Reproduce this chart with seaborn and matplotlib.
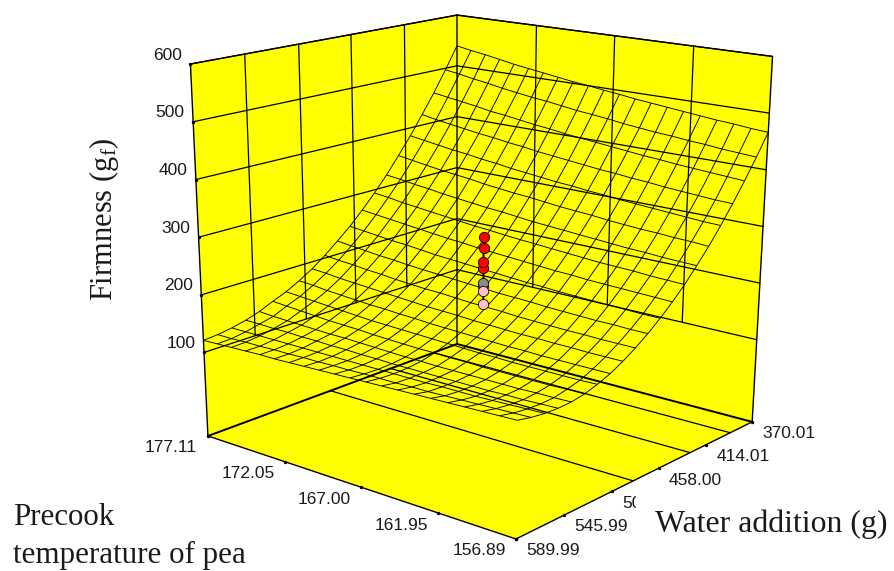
import numpy as np
import matplotlib
matplotlib.use("Agg")
import matplotlib.pyplot as plt
import seaborn as sns
from mpl_toolkits.mplot3d import proj3d
from mpl_toolkits.mplot3d.art3d import Poly3DCollection

# ---------- data ----------
temp_ticks = [177.11, 171.55, 166.40, 161.50, 156.89]
water_ticks = [370.01, 418.50, 465.00, 508.00, 550.00, 589.99]
firm_ticks = [100, 204, 306, 406, 504, 600]
temp_labels = ["177.11", "172.05", "167.00", "161.95", "156.89"]
water_labels = ["370.01", "414.01", "458.00", "502.00", "545.99", "589.99"]
firm_labels = ["100", "200", "300", "400", "500", "600"]
floor_level = -55
floor_water_lines = [393.4, 434.4, 489.0]

temp_grid = [156.89, 157.90, 158.91, 159.92, 160.93, 161.95, 162.96, 163.97, 164.98, 165.99, 167.00,
             168.01, 169.02, 170.03, 171.04, 172.05, 173.06, 174.07, 175.08, 176.10, 177.11]
water_grid = [370.01, 381.01, 392.01, 403.01, 414.01, 425.00, 436.00, 447.00, 458.00, 469.00, 480.00,
              491.00, 502.00, 513.00, 524.00, 535.00, 545.99, 556.99, 567.99, 578.99, 589.99]

firmness = [
    [471, 473, 476, 478, 481, 484, 487, 490, 493, 497, 500, 504, 507, 511, 515, 519, 523, 528, 533, 537, 542],
    [434, 436, 438, 441, 443, 446, 448, 451, 454, 458, 461, 464, 468, 472, 475, 479, 483, 488, 492, 497, 501],
    [399, 401, 403, 405, 407, 410, 412, 415, 418, 421, 424, 427, 431, 434, 438, 442, 445, 450, 454, 458, 462],
    [366, 367, 369, 371, 373, 376, 378, 381, 383, 386, 389, 392, 395, 399, 402, 406, 409, 413, 417, 421, 426],
    [335, 336, 338, 340, 342, 344, 346, 349, 351, 354, 356, 359, 362, 365, 369, 372, 376, 379, 383, 387, 391],
    [306, 308, 309, 311, 312, 314, 316, 319, 321, 323, 326, 329, 331, 334, 337, 341, 344, 347, 351, 355, 359],
    [280, 281, 282, 284, 285, 287, 289, 291, 293, 295, 297, 300, 303, 305, 308, 311, 314, 318, 321, 325, 328],
    [255, 256, 257, 259, 260, 261, 263, 265, 267, 269, 271, 273, 276, 278, 281, 284, 287, 290, 293, 297, 300],
    [233, 234, 235, 236, 237, 238, 240, 241, 243, 245, 247, 249, 251, 254, 256, 259, 262, 265, 268, 271, 274],
    [213, 213, 214, 215, 216, 217, 218, 220, 221, 223, 225, 227, 229, 231, 233, 236, 239, 241, 244, 247, 250],
    [195, 195, 196, 196, 197, 198, 199, 201, 202, 203, 205, 207, 209, 211, 213, 215, 218, 220, 223, 226, 229],
    [179, 179, 179, 180, 180, 181, 182, 183, 185, 186, 187, 189, 191, 192, 194, 196, 199, 201, 204, 206, 209],
    [165, 165, 165, 166, 166, 167, 167, 168, 169, 170, 172, 173, 174, 176, 178, 180, 182, 184, 186, 189, 191],
    [153, 153, 153, 153, 153, 154, 154, 155, 156, 157, 158, 159, 161, 162, 164, 165, 167, 169, 171, 174, 176],
    [144, 143, 143, 143, 143, 143, 144, 144, 145, 146, 147, 148, 149, 150, 151, 153, 155, 157, 159, 161, 163],
    [137, 137, 136, 136, 136, 136, 136, 137, 137, 138, 138, 139, 140, 141, 143, 144, 145, 147, 149, 151, 153],
    [133, 132, 132, 131, 131, 131, 131, 131, 131, 132, 132, 133, 134, 135, 136, 136, 137, 138, 139, 140, 142],
    [132, 131, 130, 130, 129, 129, 129, 129, 129, 129, 129, 130, 130, 131, 131, 132, 132, 133, 133, 134, 134],
    [133, 132, 131, 130, 129, 129, 129, 128, 128, 128, 128, 128, 128, 128, 128, 128, 128, 128, 128, 128, 128],
    [136, 135, 134, 133, 132, 131, 130, 130, 129, 129, 129, 128, 128, 127, 127, 126, 126, 125, 125, 124, 124],
    [141, 140, 139, 138, 137, 136, 135, 134, 133, 132, 131, 130, 129, 128, 127, 126, 126, 125, 124, 123, 122],
]

design_temp = 167.00
design_water = 480.00
points_above = [297, 277, 252, 241]
points_hidden = [214, 209]
points_below = [200, 176]

# ---------- camera of the reference ----------
ELEV, AZIM = 20.3, 130.2
FOCAL_PX = 1965
CENTER_PX = (457, 417)
XLIM3D = (169.83, 182.49)
YLIM3D = (312.2, 452.8)
ZLIM3D = (-409.9, 24.5)

W, H = 894, 571
sns.set_theme(style="white")
plt.rcParams["font.family"] = ["Liberation Sans", "DejaVu Sans"]
plt.rcParams["mathtext.fontset"] = "custom"
plt.rcParams["mathtext.rm"] = "Liberation Serif"
plt.rcParams["mathtext.it"] = "Liberation Serif"

fig = plt.figure(figsize=(W / 100, H / 100), dpi=100, facecolor="white")
ax = fig.add_axes([100 / W, 100 / H, 400 / W, 400 / H], projection="3d", computed_zorder=False)
ax.set_box_aspect((1, 1, 1), zoom=1)
ax.view_init(elev=ELEV, azim=AZIM)
ax.set_proj_type("persp", focal_length=1)
ax.set_axis_off()
ax.patch.set_visible(False)

p0 = ax.transData.transform((0, 0))
p1 = ax.transData.transform((0.1, 0.1))
per_unit = (p1[0] - p0[0]) / 0.1
fx, fy = (p0[0] - 100) / 400, (p0[1] - 100) / 400
S = 400 * FOCAL_PX / per_unit
ax.set_position([(CENTER_PX[0] - fx * S) / W, (H - CENTER_PX[1] - fy * S) / H, S / W, S / H])


def set_limits():
    ax.set_xlim(*XLIM3D)
    ax.set_ylim(*YLIM3D)
    ax.set_zlim(*ZLIM3D)


set_limits()

t_lo, t_hi = min(temp_ticks), max(temp_ticks)
w_lo, w_hi = min(water_ticks), max(water_ticks)
z_top = max(firm_ticks)
z_low_grid = min(firm_ticks)
YELLOW = "#ffff00"
INK = "#1a1a1a"


def seg(a, b, lw=0.9, z=2):
    ln, = ax.plot([a[0], b[0]], [a[1], b[1]], [a[2], b[2]], color="black", lw=lw, zorder=z,
                  solid_capstyle="round")
    ln.set_clip_on(False)


# panes
panes = [
    [(t_hi, w_lo, floor_level), (t_hi, w_hi, floor_level), (t_hi, w_hi, z_top), (t_hi, w_lo, z_top)],
    [(t_lo, w_lo, floor_level), (t_hi, w_lo, floor_level), (t_hi, w_lo, z_top), (t_lo, w_lo, z_top)],
    [(t_lo, w_lo, floor_level), (t_hi, w_lo, floor_level), (t_hi, w_hi, floor_level), (t_lo, w_hi, floor_level)],
]
poly = Poly3DCollection(panes, facecolors=YELLOW, edgecolors=YELLOW, linewidths=0.3, zorder=1)
poly.set_clip_on(False)
ax.add_collection3d(poly)

# wall grid
for z in firm_ticks:
    seg((t_hi, w_hi, z), (t_hi, w_lo, z))
    seg((t_hi, w_lo, z), (t_lo, w_lo, z))
for w in water_ticks[1:-1]:
    seg((t_hi, w, z_low_grid), (t_hi, w, z_top))
for t in temp_ticks[1:-1]:
    seg((t, w_lo, z_low_grid), (t, w_lo, z_top))
# floor lines
for w in floor_water_lines:
    seg((t_hi, w, floor_level), (t_lo, w, floor_level))
# box edges
seg((t_hi, w_hi, floor_level), (t_hi, w_hi, z_top), lw=1.0)
seg((t_hi, w_lo, floor_level), (t_hi, w_lo, z_top), lw=1.0)
seg((t_lo, w_lo, floor_level), (t_lo, w_lo, z_top), lw=1.0)
seg((t_hi, w_hi, floor_level), (t_hi, w_lo, floor_level), lw=1.4)
seg((t_hi, w_lo, floor_level), (t_lo, w_lo, floor_level), lw=1.4)
seg((t_hi, w_hi, floor_level), (t_lo, w_hi, floor_level), lw=1.0)
seg((t_lo, w_hi, floor_level), (t_lo, w_lo, floor_level), lw=1.0)
seg((t_hi, w_hi, z_top), (t_hi, w_lo, z_top), lw=1.0)
seg((t_hi, w_lo, z_top), (t_lo, w_lo, z_top), lw=1.0)

# response surface
X, Y = np.meshgrid(np.array(temp_grid), np.array(water_grid))
Z = np.array(firmness, dtype=float)
wire = ax.plot_wireframe(X, Y, Z, rstride=1, cstride=1, color="black", linewidth=0.66, zorder=3)
wire.set_clip_on(False)

# design points
all_pts = points_above + points_hidden + points_below
stem, = ax.plot([design_temp] * 2, [design_water] * 2, [min(all_pts), max(all_pts)], color="black",
                lw=1.4, zorder=4)
stem.set_clip_on(False)
for vals, col, zo in [(points_hidden, "#8a8a8a", 4.5), (points_above, "#ff0000", 5), (points_below, "#ffc0cb", 5)]:
    sc = ax.scatter([design_temp] * len(vals), [design_water] * len(vals), vals, s=55, c=col,
                    edgecolors="black", linewidths=0.6, depthshade=False, zorder=zo)
    sc.set_clip_on(False)

# tick dots
tx = [t for t in temp_ticks] + [t_hi] * len(firm_ticks) + [t_lo] * len(water_ticks)
ty = [w_hi] * len(temp_ticks) + [w_hi] * len(firm_ticks) + list(water_ticks)
tz = [floor_level] * len(temp_ticks) + list(firm_ticks) + [floor_level] * len(water_ticks)
dots = ax.scatter(tx, ty, tz, s=6, c="black", depthshade=False, linewidths=0, zorder=6)
dots.set_clip_on(False)

set_limits()
M = ax.get_proj()


def tick_label(x, y, z, s, dx, dy):
    u, v, _ = proj3d.proj_transform(x, y, z, M)
    ax.annotate(s, xy=(u, v), xycoords="data", xytext=(dx, dy), textcoords="offset pixels",
                ha="center", va="center", fontsize=12.5, color=INK, annotation_clip=False)


for t, s in zip(temp_ticks, temp_labels):
    tick_label(t, w_hi, floor_level, s, -37, -12)
for w, s in zip(water_ticks, water_labels):
    tick_label(t_lo, w, floor_level, s, 37, -12)
for z, s in zip(firm_ticks, firm_labels):
    tick_label(t_hi, w_hi, z, s, -23, 9)

SERIF = ["Liberation Serif", "DejaVu Serif"]
fig.text(104 / W, 1 - 219 / H, r"Firmness (g$_{\mathrm{f}}$)", rotation=90, ha="center", va="center",
         fontsize=22, family=SERIF, color=INK)
fig.text(655 / W, 1 - 532 / H, "Water addition (g)", ha="left", va="baseline", fontsize=22.9, family=SERIF,
         color=INK, bbox=dict(facecolor="white", edgecolor="none", pad=13.5))
fig.text(13 / W, 1 - 525 / H, "Precook", ha="left", va="baseline", fontsize=22.3, family=SERIF, color=INK)
fig.text(13 / W, 1 - 563.5 / H, "temperature of pea", ha="left", va="baseline", fontsize=22.3, family=SERIF,
         color=INK)

fig.savefig("out.png", dpi=100, facecolor="white")
